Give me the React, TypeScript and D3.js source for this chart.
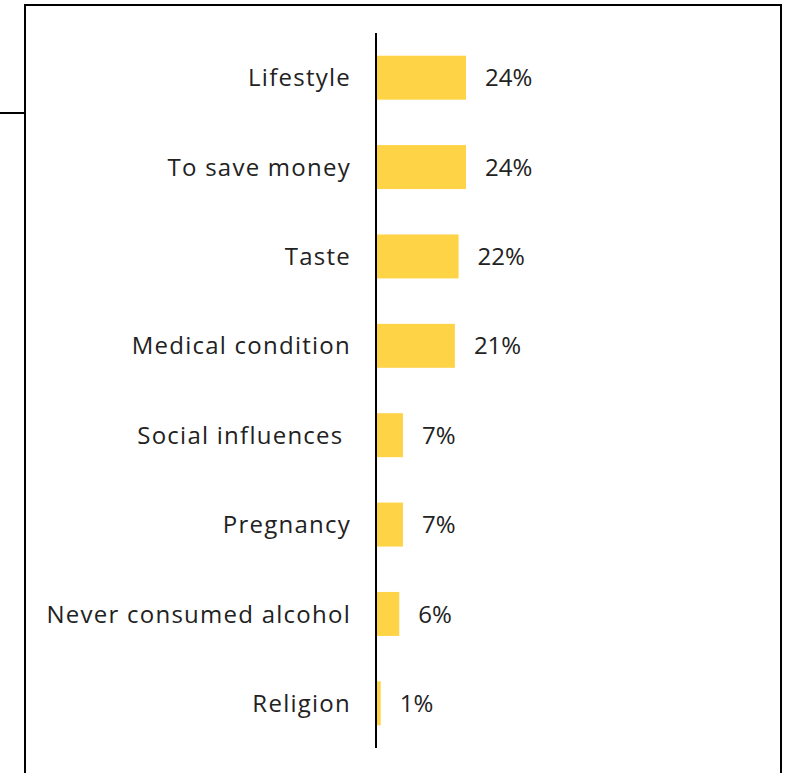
import React from "react";
import * as d3 from "d3";

const categories = [
  "Lifestyle",
  "To save money",
  "Taste",
  "Medical condition",
  "Social influences ",
  "Pregnancy",
  "Never consumed alcohol",
  "Religion",
];
const values = [24, 24, 22, 21, 7, 7, 6, 1];
const valueLabels = ["24%", "24%", "22%", "21%", "7%", "7%", "6%", "1%"];

const W = 790;
const H = 773;
const axisX = 377;
const FONT = "'Open Sans', 'Noto Sans', sans-serif";

export default function App() {
  const y = d3
    .scaleBand<string>()
    .domain(categories)
    .range([33, 748])
    .paddingInner(0.508)
    .paddingOuter(0.254);
  const x = d3.scaleLinear().domain([0, 24]).range([axisX, axisX + 89]);

  return (
    <svg
      width={W}
      height={H}
      style={{ position: "absolute", left: 0, top: 0, background: "#fff" }}
    >
      {/* frame */}
      <path d={`M25,${H + 10} L25,5 L781,5 L781,${H + 10}`} fill="none" stroke="#000" strokeWidth={2} />
      <line x1={0} x2={25} y1={113} y2={113} stroke="#000" strokeWidth={2} />

      {categories.map((c, i) => {
        const yy = y(c)!;
        const bh = y.bandwidth();
        return (
          <g key={c}>
            <rect x={x(0)} y={yy} width={x(values[i]) - x(0)} height={bh} fill="#FED346" />
            <text
              x={351}
              y={yy + bh / 2}
              dy="0.36em"
              textAnchor="end"
              fontFamily={FONT}
              fontSize={24}
              letterSpacing={1.25}
              fill="#222"
              style={{ whiteSpace: "pre" }}
            >
              {c}
            </text>
            <text
              x={x(values[i]) + 19}
              y={yy + bh / 2}
              dy="0.36em"
              fontFamily={FONT}
              fontSize={24}
              fill="#222"
            >
              {valueLabels[i]}
            </text>
          </g>
        );
      })}
      <line x1={axisX - 1} x2={axisX - 1} y1={33} y2={748} stroke="#000" strokeWidth={2} />
    </svg>
  );
}
